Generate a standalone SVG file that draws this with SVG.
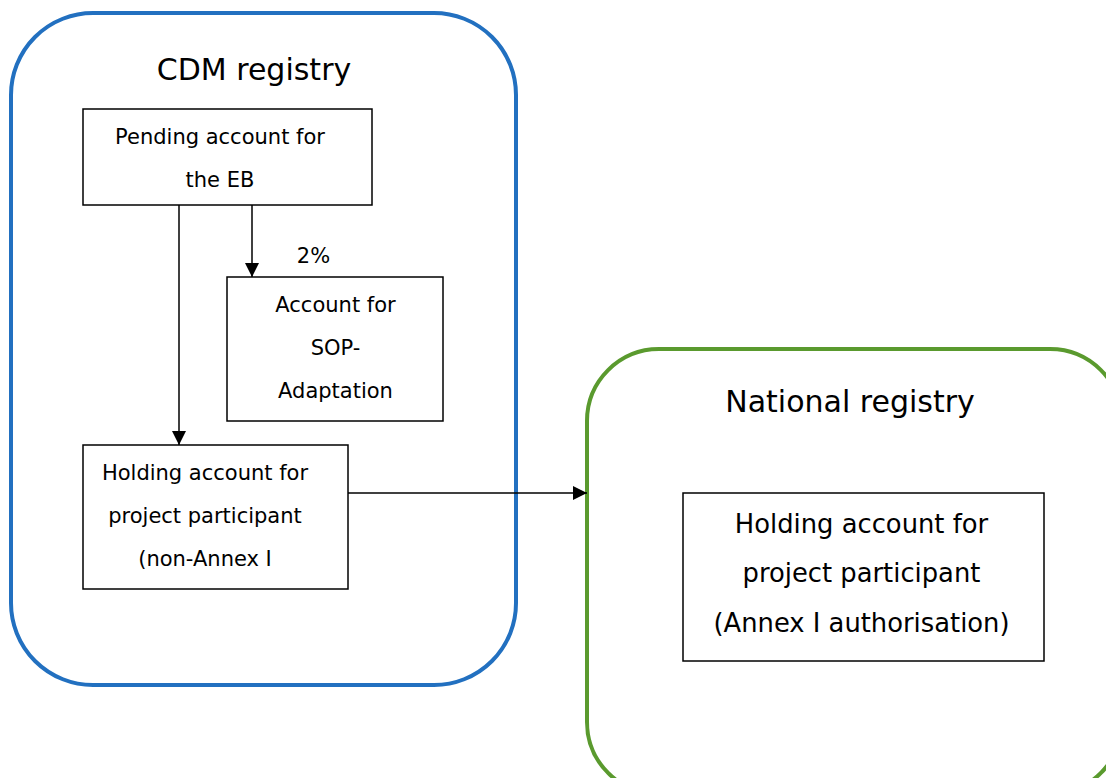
<svg xmlns="http://www.w3.org/2000/svg" width="1106" height="778" viewBox="0 0 1106 778">
  <style>
    text { font-family: "DejaVu Sans", "Liberation Sans", sans-serif; fill: #000; text-anchor: middle; }
    .title { font-size: 30px; }
    .lbl { font-size: 21px; }
    .lbl2 { font-size: 25.8px; }
    .box { fill: #fff; stroke: #000; stroke-width: 1.5; }
    .conn { stroke: #000; stroke-width: 1.5; fill: none; marker-end: url(#arrow); }
  </style>
  <defs>
    <marker id="arrow" markerWidth="14" markerHeight="16" refX="14" refY="8" orient="auto" markerUnits="userSpaceOnUse">
      <path d="M0,1 L14,8 L0,15 Z" fill="#000"/>
    </marker>
  </defs>
  <rect width="1106" height="778" fill="#fff"/>

  <!-- CDM registry container -->
  <g id="cdm-registry">
    <rect x="11" y="13" width="505" height="672" rx="82" ry="82" fill="none" stroke="#2270C0" stroke-width="4"/>
    <text class="title" x="254" y="80">CDM registry</text>
  </g>

  <!-- National registry container -->
  <g id="national-registry">
    <rect x="587" y="349" width="535" height="445" rx="72" ry="72" fill="none" stroke="#5A9A2E" stroke-width="4"/>
    <text class="title" x="850" y="412">National registry</text>
  </g>

  <g id="pending-eb">
    <rect class="box" x="83" y="109" width="289" height="96"/>
    <text class="lbl" x="220" y="144">Pending account for</text>
    <text class="lbl" x="220" y="187">the EB</text>
  </g>

  <g id="sop-adaptation">
    <rect class="box" x="227" y="277" width="216" height="144"/>
    <text class="lbl" x="335.5" y="312">Account for</text>
    <text class="lbl" x="335.5" y="355">SOP-</text>
    <text class="lbl" x="335.5" y="398">Adaptation</text>
  </g>

  <g id="holding-non-annex">
    <rect class="box" x="83" y="445" width="265" height="144"/>
    <text class="lbl" x="205" y="480">Holding account for</text>
    <text class="lbl" x="205" y="523">project participant</text>
    <text class="lbl" x="205" y="566">(non-Annex I</text>
  </g>

  <g id="holding-annex">
    <rect class="box" x="683" y="493" width="361" height="168"/>
    <text class="lbl2" x="861.5" y="533">Holding account for</text>
    <text class="lbl2" x="861.5" y="582">project participant</text>
    <text class="lbl2" x="861.5" y="632">(Annex I authorisation)</text>
  </g>

  <g id="connectors">
    <line class="conn" x1="179" y1="205" x2="179" y2="445"/>
    <line class="conn" x1="252" y1="205" x2="252" y2="277"/>
    <line class="conn" x1="348" y1="493" x2="587" y2="493"/>
    <text class="lbl" x="313.5" y="263">2%</text>
  </g>
</svg>
